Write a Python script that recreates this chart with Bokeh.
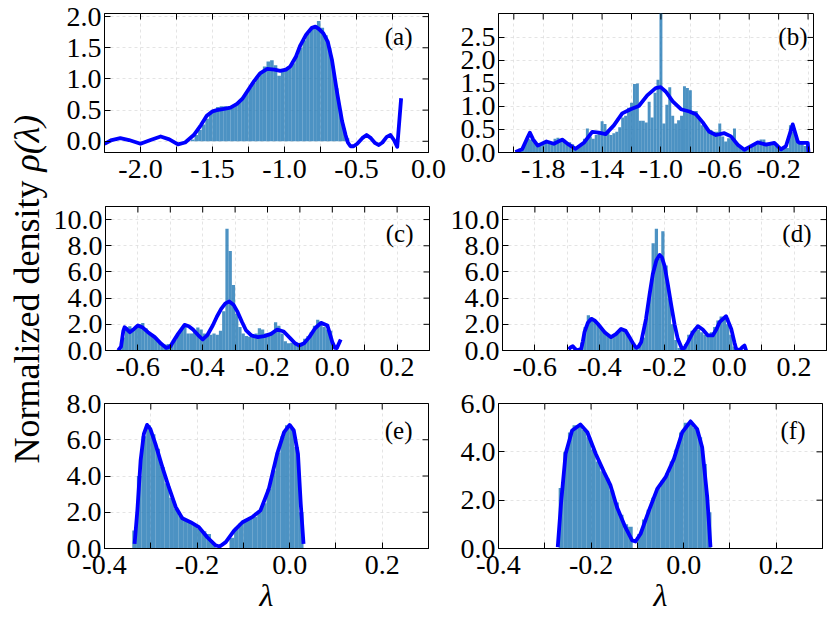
from math import pi
from bokeh.plotting import figure
from bokeh.models import Range1d, FixedTicker, Label, PrintfTickFormatter
from bokeh.layouts import row, column
from bokeh.embed import file_html
from bokeh.resources import INLINE

FONT = "Liberation Serif"
BAR_COLOR = "#1f77b4"
KDE_COLOR = "#0000ff"

# ---------------- data ----------------
# (a)
A_BIN_START = -1.65
A_BIN_WIDTH = 0.025
A_HIST = [0.03, 0.10, 0.18, 0.27, 0.36, 0.44, 0.50, 0.55, 0.56, 0.56,
          0.55, 0.56, 0.60, 0.64, 0.70, 0.78, 0.86, 0.94, 1.02, 1.10,
          1.20, 1.28, 1.30, 1.22, 1.05, 1.12, 1.15, 1.18, 1.25, 1.38,
          1.50, 1.62, 1.72, 1.80, 1.85, 1.93, 1.82, 1.70, 1.50, 1.20,
          0.85, 0.50, 0.20, 0.05]
A_KDE_X = [-2.25, -2.20, -2.14, -2.08, -2.00, -1.93, -1.86, -1.80, -1.74, -1.69,
           -1.63, -1.58, -1.54, -1.50, -1.47, -1.42, -1.375, -1.33, -1.29, -1.25,
           -1.21, -1.17, -1.12, -1.07, -1.03, -0.99, -0.96, -0.92, -0.89, -0.85,
           -0.81, -0.785, -0.76, -0.73, -0.70, -0.67, -0.634, -0.60, -0.576, -0.56,
           -0.542, -0.52, -0.495, -0.46, -0.43, -0.40, -0.37, -0.345, -0.32, -0.29,
           -0.264, -0.24, -0.217, -0.19]
A_KDE_Y = [-0.04, 0.02, 0.05, 0.02, -0.04, 0.02, 0.077, 0.03, -0.05, -0.02,
           0.10, 0.26, 0.41, 0.48, 0.50, 0.52, 0.54, 0.60, 0.69, 0.83,
           0.97, 1.09, 1.16, 1.15, 1.13, 1.15, 1.20, 1.36, 1.54, 1.71,
           1.82, 1.84, 1.80, 1.73, 1.60, 1.30, 0.77, 0.32, 0.10, -0.02,
           -0.08, -0.08, -0.04, 0.05, 0.10, 0.05, -0.03, -0.06, -0.02, 0.07,
           0.10, 0.02, -0.09, 0.69]
A_XTICKS = [-2.0, -1.5, -1.0, -0.5, 0.0]
A_XMINOR = [-1.75, -1.25, -0.75, -0.25]
A_YTICKS = [0.0, 0.5, 1.0, 1.5, 2.0]

# (b)
B_BIN_START = -1.99
B_BIN_WIDTH = 0.02
B_HIST = [0.05, 0.08, 0.12, 0.25, 0.30, 0.28, 0.22, 0.20, 0.20, 0.22,
          0.25, 0.20, 0.22, 0.30, 0.32, 0.30, 0.28, 0.20, 0.22, 0.18,
          0.12, 0.15, 0.20, 0.30, 0.52, 0.35, 0.30, 0.38, 0.40, 0.68,
          0.62, 0.45, 0.38, 0.42, 0.45, 0.55, 0.76, 0.80, 0.97, 1.08,
          1.49, 1.50, 0.69, 0.69, 0.65, 1.10, 0.76, 1.30, 1.58, 3.30,
          0.63, 1.04, 1.42, 0.80, 0.63, 0.70, 0.80, 1.44, 1.40, 1.35,
          0.90, 0.90, 0.76, 0.59, 0.55, 0.49, 0.49, 0.45, 0.45, 0.63,
          0.35, 0.24, 0.31, 0.30, 0.52, 0.14, 0.14, 0.10, 0.07, 0.07,
          0.14, 0.18, 0.21, 0.28, 0.28, 0.21, 0.20, 0.22, 0.18, 0.14,
          0.12, 0.10, 0.10, 0.59, 0.45, 0.38, 0.21, 0.21, 0.14, 0.14]
B_KDE_X = [-1.989, -1.943, -1.909, -1.891, -1.868, -1.837, -1.778, -1.728, -1.671, -1.626,
           -1.58, -1.524, -1.467, -1.422, -1.376, -1.32, -1.263, -1.206, -1.15, -1.093,
           -1.036, -1.002, -0.966, -0.92, -0.864, -0.807, -0.762, -0.717, -0.671, -0.626,
           -0.569, -0.524, -0.478, -0.433, -0.388, -0.342, -0.286, -0.229, -0.184, -0.150,
           -0.104, -0.070, -0.059, -0.002, 0.003]
B_KDE_Y = [0.01, 0.07, 0.31, 0.43, 0.28, 0.15, 0.24, 0.19, 0.28, 0.17,
           0.08, 0.21, 0.45, 0.43, 0.40, 0.59, 0.85, 0.94, 1.01, 1.24,
           1.40, 1.42, 1.32, 1.11, 0.94, 0.89, 0.83, 0.66, 0.45, 0.38,
           0.42, 0.35, 0.17, 0.06, 0.14, 0.22, 0.17, 0.21, 0.07, 0.14,
           0.61, 0.24, 0.21, 0.21, 0.0]
B_XTICKS = [-1.8, -1.4, -1.0, -0.6, -0.2]
B_XMINOR = [-2.0, -1.6, -1.2, -0.8, -0.4, 0.0]
B_YTICKS = [0.0, 0.5, 1.0, 1.5, 2.0, 2.5]

# (c)
C_BIN_START = -0.66
C_BIN_WIDTH = 0.01
C_HIST = [0.1, 1.0, 1.8, 1.85, 1.7, 1.9, 2.0, 2.1, 1.7, 1.4,
          1.2, 1.0, 0.7, 0.5, 0.45, 0.5, 0.55, 0.8, 1.2, 1.7,
          1.9, 1.3, 1.3, 1.4, 1.75, 1.6, 1.3, 1.1, 1.2, 1.3,
          1.2, 1.5, 3.0, 9.3, 7.6, 5.0, 2.8, 1.8, 1.3, 1.1,
          1.05, 1.1, 1.3, 1.7, 1.6, 1.3, 1.2, 1.4, 2.15, 1.9,
          1.3, 0.7, 0.55, 0.6, 0.5, 0.5, 0.6, 0.9, 1.1, 1.4,
          1.9, 2.35, 2.2, 1.8, 1.6, 1.5]
C_KDE_X = [-0.661, -0.652, -0.645, -0.641, -0.633, -0.625, -0.612, -0.600, -0.585, -0.569,
           -0.548, -0.528, -0.512, -0.500, -0.492, -0.476, -0.456, -0.443, -0.430, -0.415,
           -0.400, -0.385, -0.369, -0.356, -0.343, -0.330, -0.318, -0.305, -0.292, -0.279,
           -0.266, -0.250, -0.230, -0.210, -0.189, -0.170, -0.150, -0.128, -0.115, -0.102,
           -0.087, -0.071, -0.053, -0.035, -0.015, 0.000, 0.008, 0.014, 0.026]
C_KDE_Y = [0.0, 0.3, 1.5, 1.78, 1.6, 1.40, 1.65, 1.91, 1.75, 1.40,
           1.02, 0.51, 0.2, 0.3, 0.64, 1.27, 1.96, 1.85, 1.6, 1.2,
           0.84, 1.2, 1.91, 2.6, 3.18, 3.6, 3.74, 3.5, 2.93, 2.2,
           1.53, 1.15, 1.02, 1.1, 1.27, 1.6, 1.45, 0.89, 0.55, 0.38,
           0.55, 1.02, 1.7, 2.11, 1.91, 0.64, 0.2, 0.18, 0.84]
CD_XTICKS = [-0.6, -0.4, -0.2, 0.0, 0.2]
CD_XMINOR = [-0.7, -0.5, -0.3, -0.1, 0.1, 0.3]
CD_YTICKS = [0.0, 2.0, 4.0, 6.0, 8.0, 10.0]

# (d)
D_BIN_START = -0.46
D_BIN_WIDTH = 0.01
D_HIST = [0.6, 1.8, 2.7, 2.5, 2.3, 2.0, 1.7, 1.5, 1.2, 1.1,
          1.1, 1.3, 1.6, 1.6, 1.3, 0.9, 0.6, 0.3, 0.5, 1.0,
          2.5, 4.5, 8.2, 9.3, 7.0, 9.1, 6.5, 4.0, 2.0, 0.8,
          0.2, 0.1, 0.5, 1.2, 1.5, 1.7, 1.6, 1.4, 1.2, 1.2,
          1.4, 1.8, 2.3, 2.6, 2.5, 2.0, 1.2, 0.3]
D_KDE_X = [-0.496, -0.489, -0.483, -0.477, -0.470, -0.457, -0.452, -0.447, -0.437, -0.426,
           -0.416, -0.406, -0.385, -0.365, -0.350, -0.334, -0.320, -0.308, -0.295, -0.287,
           -0.280, -0.272, -0.257, -0.246, -0.236, -0.225, -0.215, -0.208, -0.200, -0.190,
           -0.179, -0.169, -0.159, -0.146, -0.138, -0.128, -0.112, -0.097, -0.082, -0.066,
           -0.051, -0.040, -0.030, -0.010, 0.006, 0.016, 0.021, 0.031, 0.040, 0.047, 0.052]
D_KDE_Y = [0.08, 0.25, 0.33, 0.15, 0.0, 0.13, 0.7, 1.4, 2.1, 2.42,
           2.3, 2.04, 1.4, 1.02, 1.25, 1.65, 1.5, 1.02, 0.45, 0.2,
           0.3, 0.64, 2.42, 4.3, 5.85, 6.9, 7.3, 7.1, 6.49, 5.1,
           3.44, 2.0, 0.89, 0.13, 0.2, 0.64, 1.4, 1.86, 1.6, 1.15,
           1.15, 1.6, 2.16, 2.62, 1.65, 0.6, 0.13, 0.0, 0.25, 0.38, 0.0]

# (e)
E_BIN_START = -0.34
E_BIN_WIDTH = 0.01
E_HIST = [1.0, 4.0, 6.2, 6.8, 6.3, 5.5, 4.5, 3.6, 2.8, 2.2,
          1.8, 1.6, 1.45, 1.3, 1.1, 0.95, 0.8, 0.3, 0.0, 0.0,
          0.0, 0.6, 1.15, 1.4, 1.55, 1.65, 1.75, 2.0, 2.5, 3.3,
          4.3, 5.3, 6.2, 6.8, 6.6, 5.6, 2.0]
E_KDE_X = [-0.335, -0.329, -0.322, -0.315, -0.308, -0.301, -0.290, -0.275, -0.261, -0.246,
           -0.232, -0.214, -0.196, -0.178, -0.160, -0.151, -0.138, -0.120, -0.102, -0.081,
           -0.063, -0.045, -0.027, -0.012, 0.000, 0.009, 0.018, 0.024, 0.030]
E_KDE_Y = [0.26, 2.1, 4.85, 6.32, 6.82, 6.6, 5.77, 4.49, 3.38, 2.28,
           1.67, 1.45, 1.18, 0.62, 0.17, 0.11, 0.35, 0.99, 1.45, 1.73,
           2.1, 3.29, 5.22, 6.42, 6.82, 6.51, 5.22, 2.46, 0.26]
EF_XTICKS = [-0.4, -0.2, 0.0, 0.2]
EF_XMINOR = [-0.3, -0.1, 0.1, 0.3]
E_YTICKS = [0.0, 2.0, 4.0, 6.0, 8.0]

# (f)
F_BIN_START = -0.27
F_BIN_WIDTH = 0.01
F_HIST = [2.5, 4.0, 4.8, 5.1, 5.1, 4.9, 4.6, 4.1, 3.6, 3.2,
          2.9, 2.4, 1.9, 1.4, 1.0, 0.9, 0.0, 0.6, 1.2, 1.6,
          2.1, 2.5, 2.8, 3.1, 3.6, 4.1, 4.8, 5.2, 5.2, 5.0,
          4.6, 3.5, 1.5]
F_KDE_X = [-0.272, -0.265, -0.255, -0.241, -0.223, -0.208, -0.190, -0.172, -0.158, -0.144,
           -0.126, -0.111, -0.104, -0.093, -0.075, -0.057, -0.039, -0.021, -0.003, 0.015,
           0.029, 0.040, 0.051, 0.058]
F_KDE_Y = [0.06, 1.85, 3.92, 4.88, 5.13, 4.81, 3.92, 3.16, 2.61, 1.71,
           0.88, 0.33, 0.29, 0.61, 1.57, 2.47, 2.95, 3.71, 4.81, 5.26,
           4.95, 4.19, 2.12, 0.06]
F_YTICKS = [0.0, 2.0, 4.0, 6.0]

TAGS = ["(a)", "(b)", "(c)", "(d)", "(e)", "(f)"]
Y_LABEL_MAIN = "Normalized density "
Y_LABEL_MATH = "\u03c1(\u03bb)"
X_LABEL = "\u03bb"

TICK_FONT_SIZE = "28px"


def style_axis(ax, ticks, minor, standoff):
    ax.ticker = FixedTicker(ticks=ticks, minor_ticks=minor)
    ax.formatter = PrintfTickFormatter(format="%.1f")
    ax.major_tick_in = 6
    ax.major_tick_out = 0
    ax.minor_tick_in = 6
    ax.minor_tick_out = 0
    ax.major_tick_line_color = "black"
    ax.minor_tick_line_color = "black"
    ax.axis_line_color = "black"
    ax.major_label_text_font = FONT
    ax.major_label_text_color = "black"
    ax.major_label_text_font_size = TICK_FONT_SIZE
    ax.major_label_standoff = standoff


def panel(xr, yr, xt, xm, yt, hist, kde, tag, tag_dx, tag_dy, fw, fh, borders, xlabel=None):
    L, R, T, B = borders
    p = figure(frame_width=fw, frame_height=fh,
               min_border_left=L, min_border_right=R,
               min_border_top=T, min_border_bottom=B,
               x_range=Range1d(*xr), y_range=Range1d(*yr),
               output_backend="svg", toolbar_location=None)
    p.outline_line_color = "black"
    p.outline_line_width = 1
    p.background_fill_color = "white"

    bottom = p.below[0]
    left_ax = p.left[0]
    style_axis(bottom, xt, xm, 7)
    style_axis(left_ax, yt, [], 3)

    if xlabel:
        bottom.axis_label = xlabel
        bottom.axis_label_text_font = FONT
        bottom.axis_label_text_font_style = "italic"
        bottom.axis_label_text_font_size = "32px"
        bottom.axis_label_text_color = "black"
        bottom.axis_label_standoff = 0

    p.xgrid.ticker = FixedTicker(ticks=xt, minor_ticks=xm)
    p.ygrid.ticker = FixedTicker(ticks=yt)
    for g in (p.xgrid, p.ygrid):
        g.grid_line_color = "#d8d8d8"
        g.grid_line_dash = "3 3"
        g.grid_line_alpha = 0.7
    p.xgrid.minor_grid_line_color = "#d8d8d8"
    p.xgrid.minor_grid_line_dash = "3 3"
    p.xgrid.minor_grid_line_alpha = 0.7

    start, width, heights = hist
    lefts = [start + i * width for i in range(len(heights))]
    rights = [l + width for l in lefts]
    p.quad(left=lefts, right=rights, bottom=0, top=heights,
           fill_color=BAR_COLOR, fill_alpha=0.8, line_color=None)
    p.line(kde[0], kde[1], line_color=KDE_COLOR, line_width=3.8, line_join="round")

    # inward ticks along the top and right edges (half of each dash is clipped by the frame)
    top_ticks = list(xt) + list(xm)
    p.scatter(x=top_ticks, y=[yr[1]] * len(top_ticks), marker="dash", angle=pi / 2,
              size=12, line_color="black", line_width=1)
    p.scatter(x=[xr[1]] * len(yt), y=list(yt), marker="dash", angle=0,
              size=12, line_color="black", line_width=1)

    tx = xr[1] - (xr[1] - xr[0]) * tag_dx / fw
    ty = yr[1] - (yr[1] - yr[0]) * tag_dy / fh
    p.add_layout(Label(x=tx, y=ty, text=tag, text_align="right", text_baseline="top",
                       text_font=FONT, text_font_size="25px", text_color="black"))
    return p


pa = panel((-2.25, 0.0), (-0.18, 2.05), A_XTICKS, A_XMINOR, A_YTICKS,
           (A_BIN_START, A_BIN_WIDTH, A_HIST), (A_KDE_X, A_KDE_Y), TAGS[0], 16, 9,
           324, 139, (54, 18, 13, 38))
pb = panel((-2.104, 0.037), (0.0, 3.02), B_XTICKS, B_XMINOR, B_YTICKS,
           (B_BIN_START, B_BIN_WIDTH, B_HIST), (B_KDE_X, B_KDE_Y), TAGS[1], 6, 9,
           315, 139, (52, 17, 13, 38))
pc = panel((-0.7, 0.3), (0.0, 11.0), CD_XTICKS, CD_XMINOR, CD_YTICKS,
           (C_BIN_START, C_BIN_WIDTH, C_HIST), (C_KDE_X, C_KDE_Y), TAGS[2], 16, 13,
           324, 144, (54, 18, 16, 38))
pd_ = panel((-0.7, 0.3), (0.0, 11.0), CD_XTICKS, CD_XMINOR, CD_YTICKS,
            (D_BIN_START, D_BIN_WIDTH, D_HIST), (D_KDE_X, D_KDE_Y), TAGS[3], 15, 13,
            324, 144, (52, 8, 16, 38))
pe = panel((-0.4, 0.3), (0.0, 8.0), EF_XTICKS, EF_XMINOR, E_YTICKS,
           (E_BIN_START, E_BIN_WIDTH, E_HIST), (E_KDE_X, E_KDE_Y), TAGS[4], 16, 13,
           324, 145, (54, 18, 15, 75), xlabel=X_LABEL)
pf = panel((-0.4, 0.3), (0.0, 6.0), EF_XTICKS, EF_XMINOR, F_YTICKS,
           (F_BIN_START, F_BIN_WIDTH, F_HIST), (F_KDE_X, F_KDE_Y), TAGS[5], 17, 13,
           324, 145, (52, 8, 15, 75), xlabel=X_LABEL)

# y label strip
lf = figure(width=50, height=623, x_range=Range1d(0, 50), y_range=Range1d(0, 623),
            x_axis_type=None, y_axis_type=None, min_border=0,
            output_backend="svg", toolbar_location=None)
lf.outline_line_color = None
lf.grid.visible = False
lab1 = Label(x=26, y=160, text=Y_LABEL_MAIN, angle=pi / 2, text_align="left",
             text_baseline="middle", text_font=FONT, text_font_size="36px",
             text_color="black")
lab2 = Label(x=26, y=160 + 292, text=Y_LABEL_MATH, angle=pi / 2, text_align="left",
             text_baseline="middle", text_font=FONT, text_font_size="36px",
             text_font_style="italic", text_color="black")
lf.add_layout(lab1)
lf.add_layout(lab2)

grid = column(row(pa, pb), row(pc, pd_), row(pe, pf))
root = row(lf, grid)

open("out.html", "w").write(file_html(root, INLINE))
